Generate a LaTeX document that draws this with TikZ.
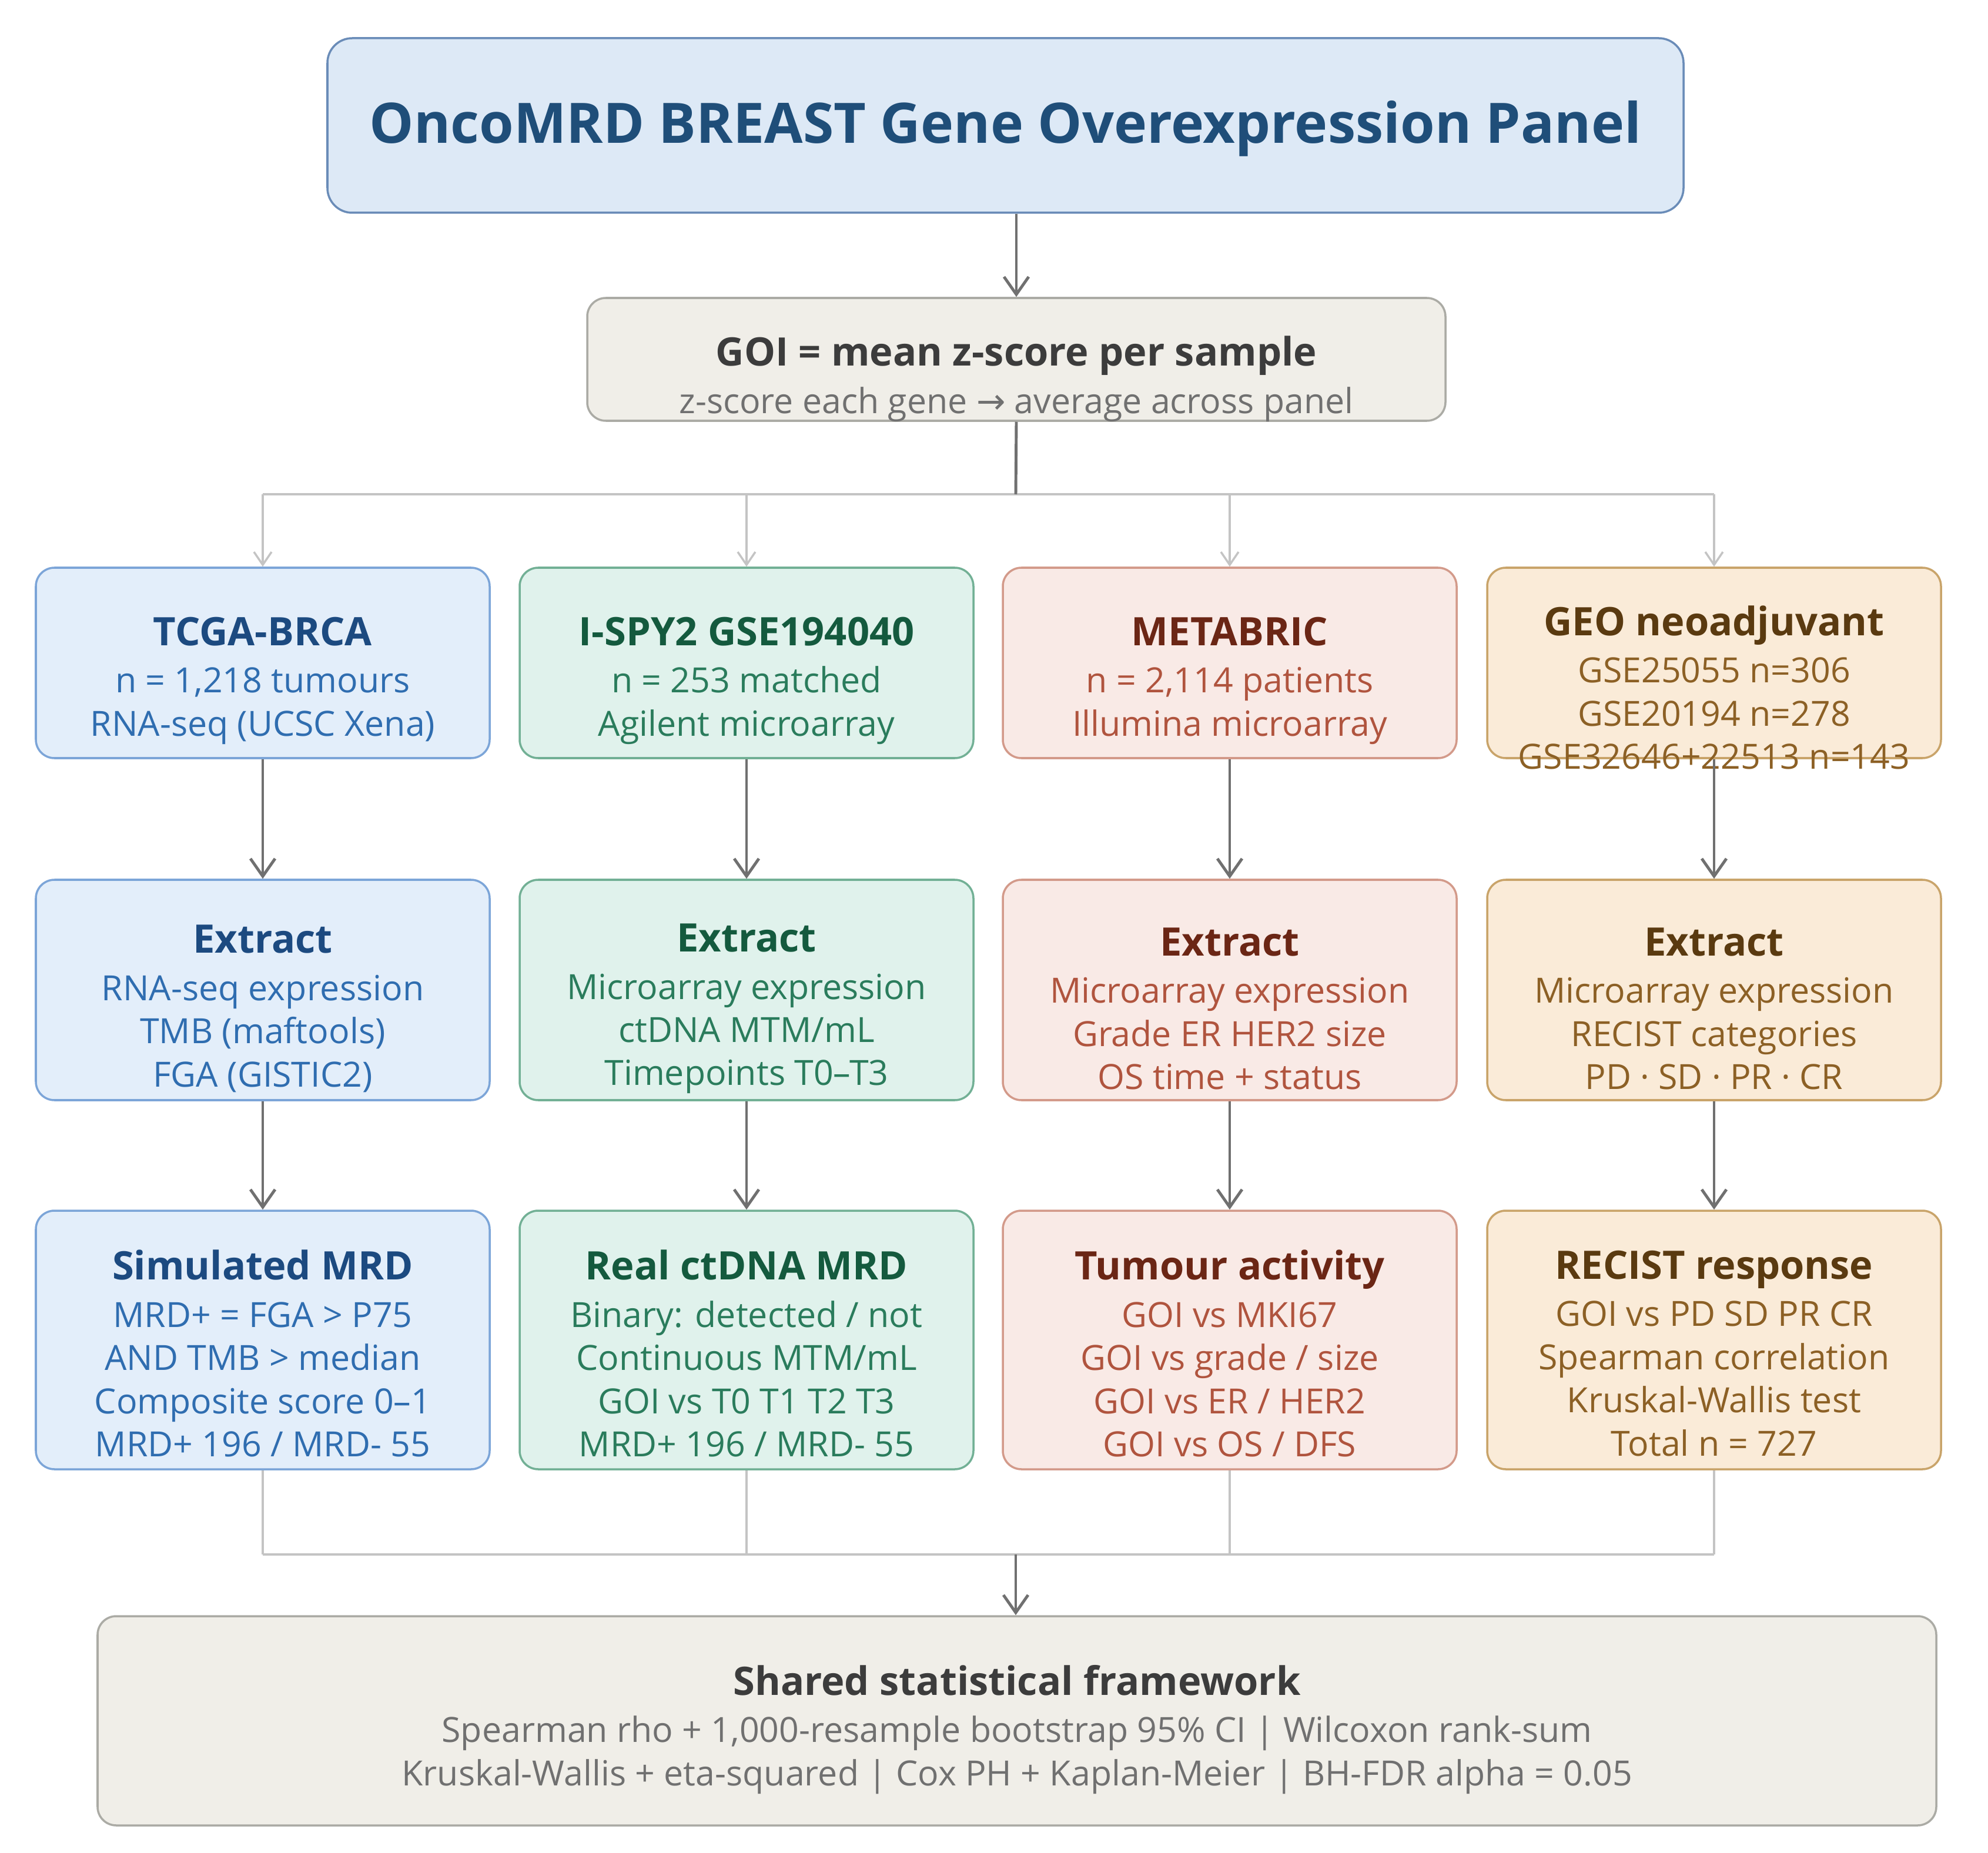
\documentclass[tikz,border=0pt]{standalone}
\usepackage{fontspec}
\setmainfont{Open Sans}
\newfontfamily\symfont{DejaVu Sans}
\usetikzlibrary{positioning,calc,arrows.meta}
\definecolor{titlefill}{HTML}{DDE9F6}
\definecolor{titleline}{HTML}{6A8CB8}
\definecolor{titletext}{HTML}{1F4E79}
\definecolor{greyfill}{HTML}{F0EEE8}
\definecolor{greyline}{HTML}{ABABA5}
\definecolor{greyhead}{HTML}{3C3C3C}
\definecolor{greytext}{HTML}{707070}
\definecolor{blfill}{HTML}{E3EEFA}
\definecolor{blline}{HTML}{7CA5D8}
\definecolor{blhead}{HTML}{1C4A80}
\definecolor{bltext}{HTML}{2F6DB0}
\definecolor{gnfill}{HTML}{E0F2EC}
\definecolor{gnline}{HTML}{72B095}
\definecolor{gnhead}{HTML}{145A3E}
\definecolor{gntext}{HTML}{2A7C5C}
\definecolor{rdfill}{HTML}{F9EAE6}
\definecolor{rdline}{HTML}{D39A8A}
\definecolor{rdhead}{HTML}{6B2615}
\definecolor{rdtext}{HTML}{B0543E}
\definecolor{tnfill}{HTML}{FAEBD8}
\definecolor{tnline}{HTML}{C9A46A}
\definecolor{tnhead}{HTML}{5A3A10}
\definecolor{tntext}{HTML}{8C6025}
\definecolor{darkflow}{HTML}{707070}
\definecolor{lightflow}{HTML}{C4C4C4}
\newcommand\hd[2]{{\color{#1head}\fontsize{19}{24}\selectfont\bfseries #2}\\[2pt]}
\tikzset{
  card/.style={draw=#1line, fill=#1fill, rounded corners=9pt, line width=1pt,
               minimum width=7.72cm, inner sep=0pt},
  cardtxt/.style={text=#1text, align=center, inner sep=0pt,
                  font=\fontsize{16.8}{20.9}\selectfont},
  trunk/.style={draw=darkflow, line width=1.4pt, -{Straight Barb[length=3mm,width=4.2mm]}},
  branch/.style={draw=lightflow, line width=1pt},
  twig/.style={branch, -{Straight Barb[length=2.2mm,width=3mm]}},
}
\begin{document}
\begin{tikzpicture}
  \useasboundingbox (0,0) rectangle (33.82,-31.53);
  \def\ra{-11.28}\def\rb{-16.845}\def\rc{-22.80}
  % header
  \node[card=title, rounded corners=12pt, minimum width=23.07cm, minimum height=2.97cm] (title) at (17.105,-2.135) {};
  \node[text=titletext, font=\fontsize{27}{32}\selectfont\bfseries] (titlet) at ([yshift=-0.05cm]title.center) {OncoMRD BREAST Gene Overexpression Panel};
  \node[card=grey, minimum width=14.6cm, minimum height=2.09cm] (goi) at (17.29,-6.115) {};
  \node[cardtxt=grey] (goit) at ([yshift=-0.33cm]goi.center) {\hd{grey}{GOI = mean z-score per sample}z-score each gene {\symfont →} average across panel};
  % datasets
  \node[card=bl, minimum height=3.24cm] (tcga) at (4.47,\ra) {};
  \node[cardtxt=bl] (tcgat) at ([yshift=-0.30cm]tcga.center) {\hd{bl}{TCGA-BRCA}n = 1,218 tumours\\ RNA-seq (UCSC Xena)};
  \node[card=gn, minimum height=3.24cm] (ispy) at (12.70,\ra) {};
  \node[cardtxt=gn] (ispyt) at ([yshift=-0.30cm]ispy.center) {\hd{gn}{I-SPY2 GSE194040}n = 253 matched\\ Agilent microarray};
  \node[card=rd, minimum height=3.24cm] (meta) at (20.92,\ra) {};
  \node[cardtxt=rd] (metat) at ([yshift=-0.30cm]meta.center) {\hd{rd}{METABRIC}n = 2,114 patients\\ Illumina microarray};
  \node[card=tn, minimum height=3.24cm] (geo) at (29.16,\ra) {};
  \node[cardtxt=tn] (geot) at ([yshift=-0.42cm]geo.center) {\hd{tn}{GEO neoadjuvant}GSE25055 n=306\\ GSE20194 n=278\\ GSE32646+22513 n=143};
  % extraction
  \node[card=bl, minimum height=3.75cm] (tcgax) at (4.47,\rb) {};
  \node[cardtxt=bl] (tcgaxt) at ([yshift=-0.32cm]tcgax.center) {\hd{bl}{Extract}RNA-seq expression\\ TMB (maftools)\\ FGA (GISTIC2)};
  \node[card=gn, minimum height=3.75cm] (ispyx) at (12.70,\rb) {};
  \node[cardtxt=gn] (ispyxt) at ([yshift=-0.32cm]ispyx.center) {\hd{gn}{Extract}Microarray expression\\ ctDNA MTM/mL\\ Timepoints T0--T3};
  \node[card=rd, minimum height=3.75cm] (metax) at (20.92,\rb) {};
  \node[cardtxt=rd] (metaxt) at ([yshift=-0.32cm]metax.center) {\hd{rd}{Extract}Microarray expression\\ Grade ER HER2 size\\ OS time + status};
  \node[card=tn, minimum height=3.75cm] (geox) at (29.16,\rb) {};
  \node[cardtxt=tn] (geoxt) at ([yshift=-0.32cm]geox.center) {\hd{tn}{Extract}Microarray expression\\ RECIST categories\\ PD · SD · PR · CR};
  % analyses
  \node[card=bl, minimum height=4.40cm] (tcgar) at (4.47,\rc) {};
  \node[cardtxt=bl] (tcgart) at ([yshift=-0.23cm]tcgar.center) {\hd{bl}{Simulated MRD}MRD+ = FGA > P75\\ AND TMB > median\\ Composite score 0--1\\ MRD+ 196 / MRD- 55};
  \node[card=gn, minimum height=4.40cm] (ispyr) at (12.70,\rc) {};
  \node[cardtxt=gn] (ispyrt) at ([yshift=-0.23cm]ispyr.center) {\hd{gn}{Real ctDNA MRD}Binary: detected / not\\ Continuous MTM/mL\\ GOI vs T0 T1 T2 T3\\ MRD+ 196 / MRD- 55};
  \node[card=rd, minimum height=4.40cm] (metar) at (20.92,\rc) {};
  \node[cardtxt=rd] (metart) at ([yshift=-0.23cm]metar.center) {\hd{rd}{Tumour activity}GOI vs MKI67\\ GOI vs grade / size\\ GOI vs ER / HER2\\ GOI vs OS / DFS};
  \node[card=tn, minimum height=4.40cm] (geor) at (29.16,\rc) {};
  \node[cardtxt=tn] (geort) at ([yshift=-0.23cm]geor.center) {\hd{tn}{RECIST response}GOI vs PD SD PR CR\\ Spearman correlation\\ Kruskal-Wallis test\\ Total n = 727};
  % shared stats
  \node[card=grey, minimum width=31.28cm, minimum height=3.56cm] (shared) at (17.30,-29.28) {};
  \node[cardtxt=grey] (sharedt) at ([yshift=-0.15cm]shared.center) {\hd{grey}{Shared statistical framework}Spearman rho + 1,000-resample bootstrap 95\% CI | Wilcoxon rank-sum\\ Kruskal-Wallis + eta-squared | Cox PH + Kaplan-Meier | BH-FDR alpha = 0.05};
  % connectors
  \coordinate (split) at (17.28,-8.41);
  \coordinate (merge) at (17.28,-26.45);
  \draw[trunk] (goi.north |- title.south) -- (goi.north);
  \draw[branch] (tcga.north |- split) -- (geo.north |- split);
  \draw[branch, draw=darkflow, line width=1.4pt] (goi.south) -- (split);
  \foreach \n in {tcga,ispy,meta,geo}{
    \draw[twig] (\n.north |- split) -- (\n.north);
    \draw[trunk] (\n) -- (\n x);
    \draw[trunk] (\n x) -- (\n r);
    \draw[branch] (\n r.south) -- (\n r.south |- merge);}
  \draw[branch] (tcgar.south |- merge) -- (geor.south |- merge);
  \draw[trunk] (merge) -- (merge |- shared.north);
\end{tikzpicture}
\end{document}
